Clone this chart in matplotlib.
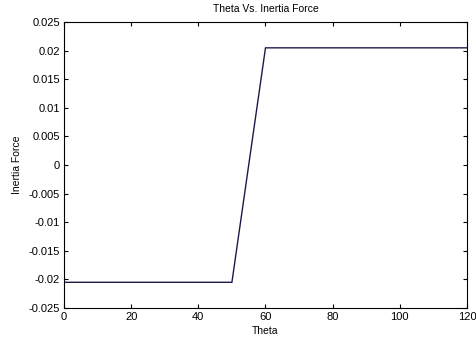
import matplotlib
matplotlib.use('Agg')
import matplotlib.pyplot as plt

# Data
theta = [0, 50, 60, 120]
force = [-0.0205, -0.0205, 0.0205, 0.0205]
yticks = [-0.025, -0.02, -0.015, -0.01, -0.005, 0, 0.005, 0.01, 0.015, 0.02, 0.025]
ytick_labels = ['-0.025', '-0.02', '-0.015', '-0.01', '-0.005', '0',
                '0.005', '0.01', '0.015', '0.02', '0.025']
xticks = [0, 20, 40, 60, 80, 100, 120]

plt.rcParams['font.family'] = ['Liberation Sans', 'DejaVu Sans']

fig = plt.figure(figsize=(4.76, 3.4), dpi=100)
ax = fig.add_axes([0.1345, 0.094, 0.8465, 0.841])
ax.plot(theta, force, color='#1a1a4a', linewidth=1.0)
ax.set_xlim(0, 120)
ax.set_ylim(-0.025, 0.025)
ax.set_xticks(xticks)
ax.set_yticks(yticks)
ax.set_yticklabels(ytick_labels)
ax.tick_params(direction='in', labelsize=8, length=3, top=True, right=True, pad=3)
ax.set_title('Theta Vs. Inertia Force', fontsize=7.5, pad=7)
ax.set_xlabel('Theta', fontsize=7.5, labelpad=3)
ax.set_ylabel('Inertia Force', fontsize=7.5, labelpad=5)
fig.savefig('out.png', dpi=100)
